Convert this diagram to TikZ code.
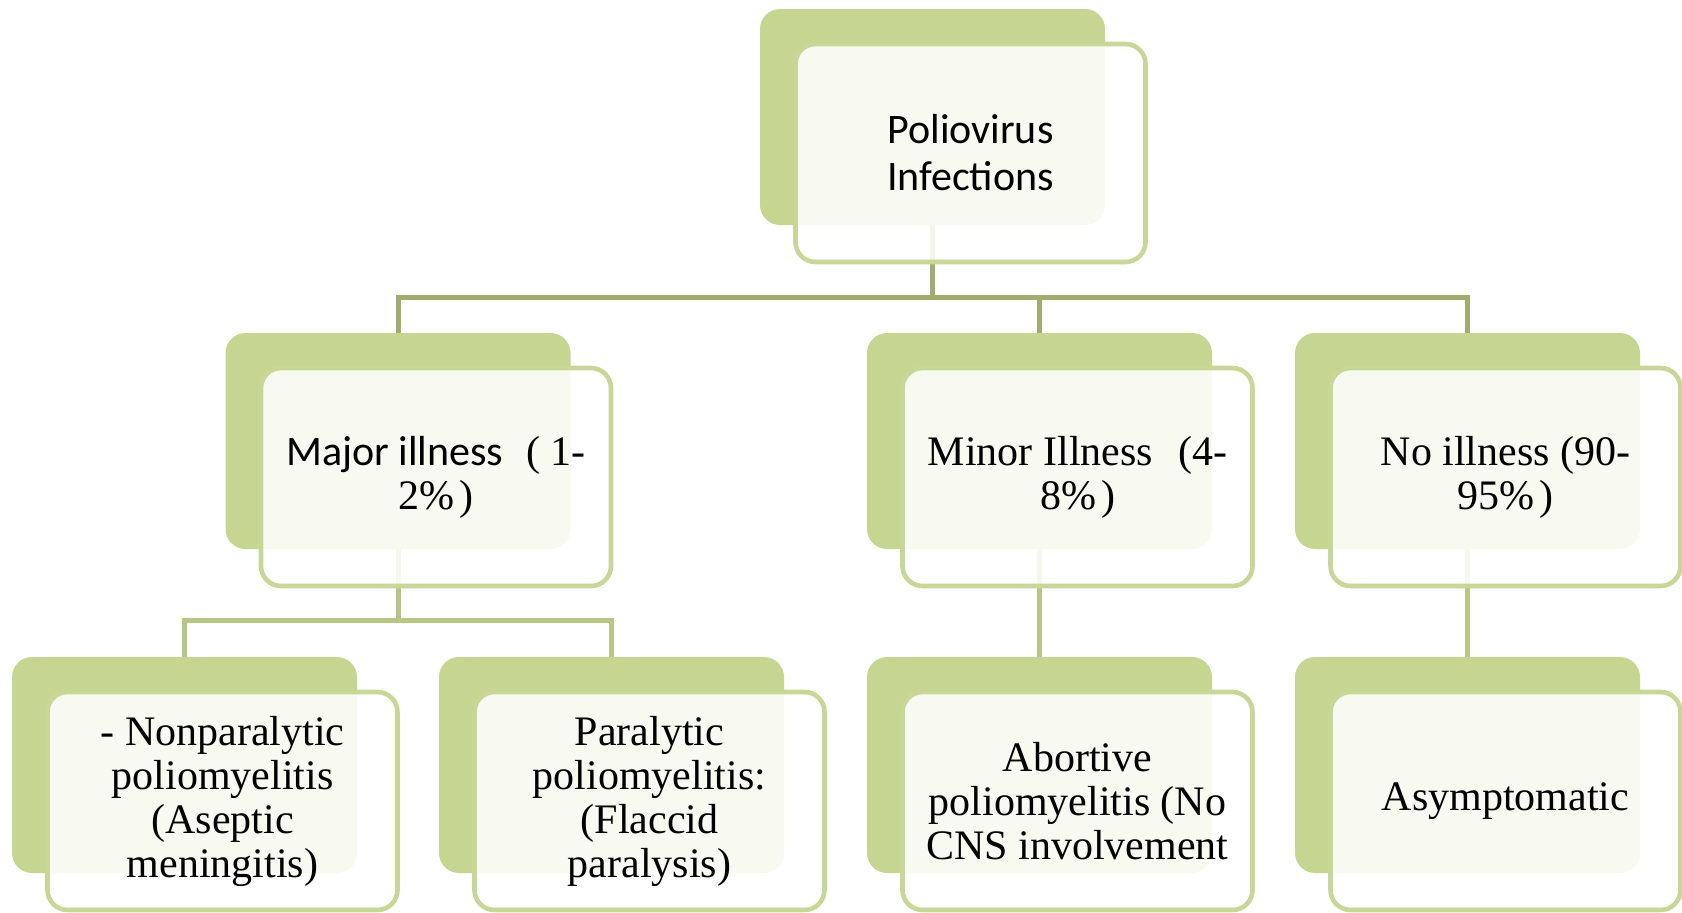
\documentclass[tikz,border=0pt]{standalone}
\usepackage{fontspec}
\setmainfont{Liberation Serif}
\newfontfamily\calfont{Carlito}
\usetikzlibrary{backgrounds}
\definecolor{polgreen}{HTML}{C6D590}
\definecolor{polline}{HTML}{C8D796}
\definecolor{linkdark}{HTML}{A0AD6E}
\definecolor{linklight}{HTML}{B8C683}
\tikzset{
  back/.style={fill=polgreen, rounded corners=10pt, minimum width=172.5pt, minimum height=108pt, inner sep=0pt},
  front/.style={draw=polline, line width=2.3pt, fill=white, fill opacity=0.88, text opacity=1, rounded corners=10pt,
    minimum width=175pt, minimum height=109pt, inner sep=0pt, align=center, font=\fontsize{21pt}{22pt}\selectfont},
  sans/.style={font=\calfont\fontsize{21pt}{23.5pt}\selectfont},
  serif/.style={},
  link/.style={line width=2.5pt, draw=linkdark},
  sublink/.style={line width=2.5pt, draw=linklight},
}

\begin{document}
\begin{tikzpicture}[x=0.5pt, y=-0.5pt]
    \useasboundingbox (0,0) rectangle (1682,912);
    \foreach \n/\x/\y/\s/\t in {
      top/932.5/117/sans/{Poliovirus\\Infections},
      major/398/441/serif/{\calfont Major illness\hspace{0.55em}\rmfamily( 1-\\2\%\hspace{0.12em})},
      minor/1039.5/441/serif/{Minor Illness\hspace{0.6em}(4-\\8\%\hspace{0.12em})},
      noill/1467.5/441/serif/{No illness (90-\\95\%\hspace{0.12em})},
      nonpar/184.5/765/serif/{- Nonparalytic\\poliomyelitis\\(Aseptic\\meningitis)},
      para/611.5/765/serif/{Paralytic\\poliomyelitis:\\(Flaccid\\paralysis)},
      abort/1039.5/765/serif/{Abortive\\poliomyelitis (No\\CNS involvement},
      asym/1467.5/765/serif/{Asymptomatic}}
    {
      \node[back] (\n-b) at (\x,\y) {};
      \node[front,\s] (\n) at ([shift={(38,36)}]\n-b.center) {\t};
    }
    \coordinate (j1) at (932.5,297);
    \coordinate (j2) at (398,620);
    \begin{scope}[on background layer]
      \draw[link] (top-b) -- (j1);
      \foreach \m in {major,minor,noill}
      \draw[link] (j1) -| (\m-b);
      \draw[sublink] (major-b) -- (j2);
      \draw[sublink] (j2) -| (nonpar-b);
      \draw[sublink] (j2) -| (para-b);
      \draw[sublink] (minor-b) -- (abort-b);
      \draw[sublink] (noill-b) -- (asym-b);
    \end{scope}
\end{tikzpicture}
\end{document}
